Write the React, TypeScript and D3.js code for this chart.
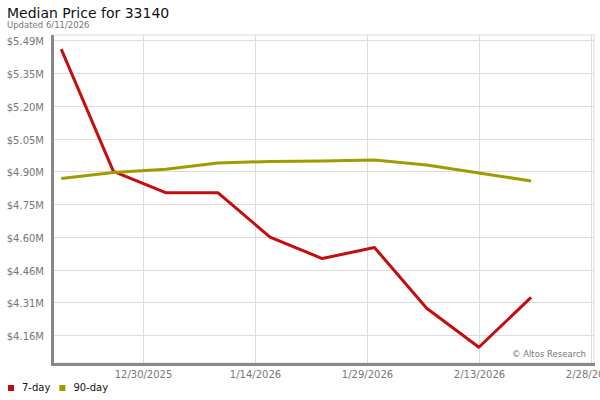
import React, { useEffect, useRef } from 'react';
import * as d3 from 'd3';

// weekly observation dates
const dates = [
  '2025-12-19', '2025-12-26', '2026-01-02', '2026-01-09', '2026-01-16',
  '2026-01-23', '2026-01-30', '2026-02-06', '2026-02-13', '2026-02-20',
];

// median price, $M
const sevenDay = [5.452, 4.901, 4.805, 4.805, 4.605, 4.508, 4.558, 4.284, 4.108, 4.333];
const ninetyDay = [4.869, 4.896, 4.911, 4.939, 4.946, 4.948, 4.952, 4.930, 4.894, 4.858];

const yTicks = [4.162, 4.310, 4.458, 4.605, 4.753, 4.901, 5.049, 5.197, 5.344, 5.492];
const yTickLabels = ['$4.16M', '$4.31M', '$4.46M', '$4.60M', '$4.75M', '$4.90M', '$5.05M', '$5.20M', '$5.35M', '$5.49M'];

const xTicks = ['2025-12-30', '2026-01-14', '2026-01-29', '2026-02-13', '2026-02-28'];
const xTickLabels = ['12/30/2025', '1/14/2026', '1/29/2026', '2/13/2026', '2/28/2026'];

const series = [
  { name: '7-day', values: sevenDay, color: '#c40d0d' },
  { name: '90-day', values: ninetyDay, color: '#a09c00' },
];

const W = 600;
const H = 400;
const FONT = '"DejaVu Sans", Verdana, sans-serif';

export default function App() {
  const svgRef = useRef<SVGSVGElement>(null);

  useEffect(() => {
    if (!svgRef.current) return;
    const svg = d3.select(svgRef.current);
    svg.selectAll('*').remove();

    const plot = { left: 53, top: 35, right: 593, bottom: 363 };
    const parse = d3.utcParse('%Y-%m-%d');

    const x = d3.scaleUtc()
      .domain([parse('2025-12-17')!.getTime() + 0.9 * 864e5, parse('2026-02-28')!.getTime() + 0.3 * 864e5])
      .range([plot.left, plot.right]);
    const y = d3.scaleLinear()
      .domain([4.162, 5.492])
      .range([335.3, 40.3]);

    // title
    svg.append('text')
      .attr('x', 7).attr('y', 18)
      .attr('font-size', 14).attr('fill', '#111')
      .text('Median Price for 33140');
    svg.append('text')
      .attr('x', 7).attr('y', 28)
      .attr('font-size', 8.5).attr('fill', '#777')
      .text('Updated 6/11/2026');

    // plot frame
    svg.append('rect')
      .attr('x', plot.left).attr('y', plot.top)
      .attr('width', plot.right - plot.left + 1).attr('height', plot.bottom - plot.top)
      .attr('fill', '#fff').attr('stroke', '#dcdcdc').attr('stroke-width', 1);

    // horizontal grid + y labels
    const yg = svg.append('g');
    yTicks.forEach((t, i) => {
      const yy = Math.round(y(t)) + 0.5;
      yg.append('line')
        .attr('x1', plot.left).attr('x2', plot.right + 1)
        .attr('y1', yy).attr('y2', yy)
        .attr('stroke', '#dcdcdc').attr('stroke-width', 1);
      yg.append('text')
        .attr('x', 44).attr('y', yy + 4)
        .attr('text-anchor', 'end')
        .attr('font-size', 10).attr('fill', '#777')
        .text(yTickLabels[i]);
    });

    // vertical grid + x labels
    const xg = svg.append('g');
    xTicks.forEach((t, i) => {
      const xx = Math.round(x(parse(t)!)) + 0.5;
      xg.append('line')
        .attr('x1', xx).attr('x2', xx)
        .attr('y1', plot.top).attr('y2', plot.bottom)
        .attr('stroke', '#dcdcdc').attr('stroke-width', 1);
      xg.append('text')
        .attr('x', xx).attr('y', 378)
        .attr('text-anchor', 'middle')
        .attr('font-size', 10).attr('fill', '#777')
        .text(xTickLabels[i]);
    });

    // axis bars
    svg.append('rect')
      .attr('x', 51).attr('y', plot.top).attr('width', 3).attr('height', plot.bottom - plot.top + 2)
      .attr('fill', '#888');
    svg.append('rect')
      .attr('x', 51).attr('y', plot.bottom).attr('width', plot.right - 51 + 2).attr('height', 3)
      .attr('fill', '#888');

    // lines
    series.forEach(s => {
      const pts = dates.map((d, i) => ({ date: parse(d)!, v: s.values[i] }));
      const line = d3.line<{ date: Date; v: number }>()
        .x(d => x(d.date))
        .y(d => y(d.v));
      svg.append('path')
        .datum(pts)
        .attr('fill', 'none')
        .attr('stroke', s.color)
        .attr('stroke-width', 3)
        .attr('stroke-linejoin', 'round')
        .attr('d', line);
    });

    // watermark
    svg.append('text')
      .attr('x', 586).attr('y', 357)
      .attr('text-anchor', 'end')
      .attr('font-size', 8.5).attr('fill', '#777')
      .text('© Altos Research');

    // legend
    const lg = svg.append('g');
    let lx = 8;
    series.forEach(s => {
      lg.append('rect')
        .attr('x', lx).attr('y', 385).attr('width', 6).attr('height', 6)
        .attr('fill', s.color);
      const t = lg.append('text')
        .attr('x', lx + 14).attr('y', 391)
        .attr('font-size', 10).attr('fill', '#111')
        .text(s.name);
      lx += 14 + (t.node() as SVGTextElement).getComputedTextLength() + 9;
    });
  }, []);

  return (
    <div style={{ position: 'absolute', left: 0, top: 0 }}>
      <svg ref={svgRef} width={W} height={H} style={{ fontFamily: FONT, display: 'block', background: '#fff' }} />
    </div>
  );
}
